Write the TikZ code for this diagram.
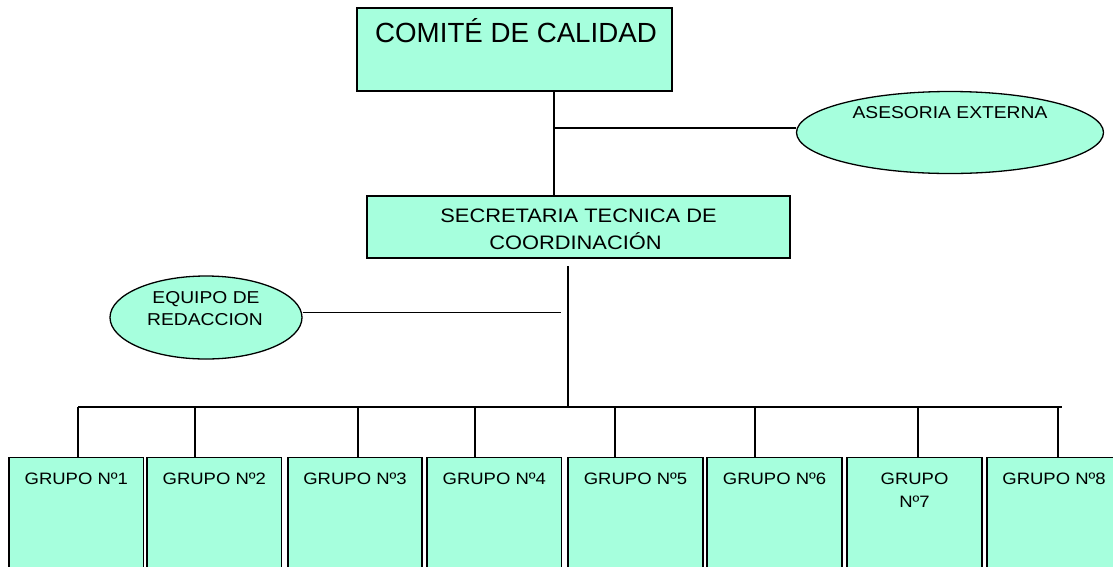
\documentclass[tikz,border=0pt]{standalone}
\usepackage{fontspec}
\setmainfont{Liberation Sans}
\newfontfamily\widef[FakeStretch=1.12]{Liberation Sans}
\usetikzlibrary{shapes.geometric}
\definecolor{aqua}{RGB}{166,255,221}
\tikzset{
  boxs/.style={draw=black, fill=aqua, line width=1.6pt, rectangle, inner sep=0pt},
  ell/.style={draw=black, fill=aqua, line width=1.3pt, ellipse, inner sep=0pt},
  conn/.style={draw=black, line width=1.3pt},
  txt/.style={anchor=base, inner sep=0pt, text=black},
  gtxt/.style={txt, font=\widef\fontsize{16.5}{20}\selectfont},
  stxt/.style={txt, font=\widef\fontsize{19.5}{24}\selectfont},
  etxt/.style={txt, font=\widef\fontsize{17.2}{21}\selectfont},
  gbox/.style={boxs, minimum width=134.5pt, minimum height=140pt}
}
\begin{document}
\begin{tikzpicture}[x=1pt,y=-1pt]
\useasboundingbox (0,0) rectangle (1113,566);
\clip (0,0) rectangle (1113,566);
% top box
\node[boxs, minimum width=315pt, minimum height=83pt] (comite) at (514.5,49.5) {};
\node[txt, font=\fontsize{27.7}{32}\selectfont] (tcom) at (516,42.3) {COMITÉ DE CALIDAD};
% asesoria
\node[ell, minimum width=307pt, minimum height=82pt] (ases) at (950,132.5) {};
\node[etxt] (tases) at (950,118) {ASESORIA EXTERNA};
% secretaria
\node[boxs, minimum width=423pt, minimum height=62pt] (secre) at (578.3,227) {};
\node[stxt] (tsec1) at (578.5,222.3) {SECRETARIA TECNICA DE};
\node[stxt] (tsec2) at (575.5,249.3) {COORDINACIÓN};
% equipo
\node[ell, minimum width=192pt, minimum height=83pt] (equipo) at (206,317.5) {};
\node[etxt] (teq1) at (206,303.3) {EQUIPO DE};
\node[etxt] (teq2) at (205,325.7) {REDACCION};
% groups
\node[gbox] (g1) at (76.3,527.5) {};
\node[gbox] (g2) at (214.3,527.5) {};
\node[gbox] (g3) at (355,527.5) {};
\node[gbox] (g4) at (494.3,527.5) {};
\node[gbox] (g5) at (635.5,527.5) {};
\node[gbox] (g6) at (774.5,527.5) {};
\node[gbox] (g7) at (914.5,527.5) {};
\node[gbox] (g8) at (1054,527.5) {};
\node[gtxt] (tg1) at (76.3,484) {GRUPO Nº1};
\node[gtxt] (tg2) at (214.3,484) {GRUPO Nº2};
\node[gtxt] (tg3) at (355,484) {GRUPO Nº3};
\node[gtxt] (tg4) at (494.3,484) {GRUPO Nº4};
\node[gtxt] (tg5) at (635.5,484) {GRUPO Nº5};
\node[gtxt] (tg6) at (774.5,484) {GRUPO Nº6};
\node[gtxt] (tg7a) at (914.5,484) {GRUPO};
\node[gtxt] (tg7b) at (914.5,507.4) {Nº7};
\node[gtxt] (tg8) at (1054,484) {GRUPO Nº8};
% connectors
\coordinate (j1) at (554,128);
\draw[conn] (comite.south -| j1) -- (secre.north -| j1);
\draw[conn] (j1) -- (j1 -| ases.west);
\coordinate (s0) at (568,266);
\coordinate (s1) at (568,407);
\draw[conn] (s0) -- (s1);
\coordinate (e1) at (561,312.3);
\draw[conn] (e1 -| equipo.east) -- (e1);
\coordinate (busL) at (78,407);
\coordinate (busR) at (1062,407);
\draw[conn] (busL) -- (busR);
\coordinate (d1) at (78,407);
\coordinate (d2) at (195,407);
\coordinate (d3) at (358,407);
\coordinate (d4) at (475,407);
\coordinate (d5) at (615,407);
\coordinate (d6) at (755,407);
\coordinate (d7) at (918,407);
\coordinate (d8) at (1058,407);
\foreach \i in {1,...,8} {
  \draw[conn] (d\i) -- (g\i.north -| d\i);
}
\end{tikzpicture}
\end{document}
